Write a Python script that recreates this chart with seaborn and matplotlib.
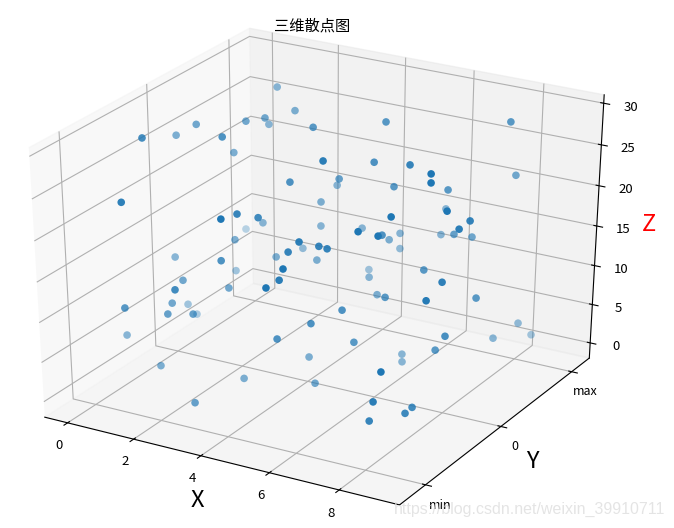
import numpy as np
import seaborn as sns
import matplotlib
matplotlib.use('Agg')
import matplotlib.pyplot as plt

sns.reset_orig()
plt.rcParams['font.family'] = ['Noto Sans CJK SC', 'DejaVu Sans']

# values
x = [1.83,2.71,4.06,2.39,1.96,2.00,0.94,0.30,0.98,2.46,1.72,5.58,4.28,4.79,3.99,1.57,4.05,4.16,3.94,4.16,2.67,1.18,2.48,3.98,5.73,3.49,5.93,6.13,5.33,1.02,3.46,3.53,4.45,5.62,8.28,5.92,7.20,8.19,8.26,6.30,7.49,8.35,6.60,8.82,7.70,8.98,8.98,7.74,6.71,7.91,4.91,7.13,6.69,7.58,5.79,5.87,5.66,5.86,5.62,5.65,1.91,3.03,1.96,2.98,1.92,1.12,2.20,2.75,1.11,1.55,0.62,5.90,5.30,5.10,5.71,3.85,1.92,3.54,6.45,4.88,5.48,7.63,8.98,6.07,7.02,8.98,8.98,8.98,8.98,8.74,8.98,8.54,6.72,6.86,6.93,8.73,8.58,8.98,8.98,8.42]
y = [0.551,0.400,0.049,0.163,0.389,0.092,-0.075,-0.063,-0.718,-0.380,0.054,-0.484,-0.331,0.058,0.382,-1.199,0.151,-1.099,-0.823,-0.666,0.007,0.408,-0.260,0.180,-0.839,0.160,-0.686,-0.672,-0.801,-0.398,-0.824,-0.192,-0.074,0.279,0.680,-0.001,-0.125,-0.312,-0.343,0.085,0.242,0.744,0.640,-0.392,-0.581,-0.165,-0.306,0.218,0.529,0.382,0.303,-0.732,-0.236,-0.686,0.406,0.227,0.467,-1.086,-1.032,-1.200,-0.022,-0.566,-0.681,-1.174,-0.799,-0.300,-0.962,-0.884,-0.191,-1.199,-0.837,-0.771,-0.929,-0.453,-0.640,-0.735,-0.953,-1.200,-0.625,0.410,0.146,-0.119,-0.509,-0.012,-0.336,-0.709,-0.053,0.544,0.739,0.316,-0.453,-0.371,-0.593,-0.032,-0.061,-1.148,-1.174,-0.861,-0.950,-1.148]
z = [29.6,28.3,29.4,28.5,26.1,28.2,27.9,26.0,30.0,29.4,24.4,29.8,25.3,23.8,20.4,25.8,19.8,25.5,24.2,23.0,16.9,12.3,16.3,16.6,22.6,13.5,21.3,21.1,20.8,13.7,18.2,14.7,14.4,30.0,29.9,27.1,28.6,29.5,28.7,24.0,23.7,23.2,18.2,26.2,25.7,23.8,23.7,18.7,15.8,17.5,16.4,24.4,20.5,24.0,15.9,16.3,13.5,21.1,19.2,19.4,10.4,12.8,13.5,16.5,11.4,7.2,11.4,11.4,5.2,13.1,6.4,12.5,11.1,5.4,4.0,3.4,4.6,3.3,13.7,10.5,11.8,16.4,18.7,11.2,13.9,17.8,13.8,6.7,3.9,6.1,11.8,9.1,9.8,4.6,3.9,12.0,8.4,5.9,5.8,5.7]
y_ticks = [-1, 0, 1]
y_labels = ['min', '0', 'max']

fig = plt.figure(figsize=(6.74, 5.28), dpi=100)
ax = fig.add_axes([-0.0473, 0.0096, 1.0215, 0.9785], projection='3d')
# the old style cube stretched to the axes, not kept square
ax.apply_aspect = lambda position=None: None
ax.set_box_aspect((4, 4, 4), zoom=1)

ax.scatter(x, y, z, s=30, linewidths=0, color=sns.color_palette('tab10')[0])

ax.set_xlim(-0.7, 9.7)
ax.set_ylim(-1.33, 1.26)
ax.set_zlim(-2, 31)
ax.set_yticks(y_ticks)
ax.set_yticklabels(y_labels)
ax.tick_params(axis='x', labelsize=9.5, pad=1)
ax.tick_params(axis='y', labelsize=9, pad=1)
ax.tick_params(axis='z', labelsize=9.5, pad=3)

ax.set_xlabel('X', fontsize=17, labelpad=1)
ax.set_ylabel('Y', fontsize=17, labelpad=1)
ax.set_zlabel('Z', fontsize=17, labelpad=1, color='red')
ax.set_title('三维散点图', fontsize=11, y=1.0195)

fig.text(0.585, 0.027, 'https://blog.csdn.net/weixin_39910711', fontsize=11.5,
         color='#dedede', alpha=0.8, family=['Liberation Sans', 'DejaVu Sans'])

fig.savefig('out.png', dpi=100)
